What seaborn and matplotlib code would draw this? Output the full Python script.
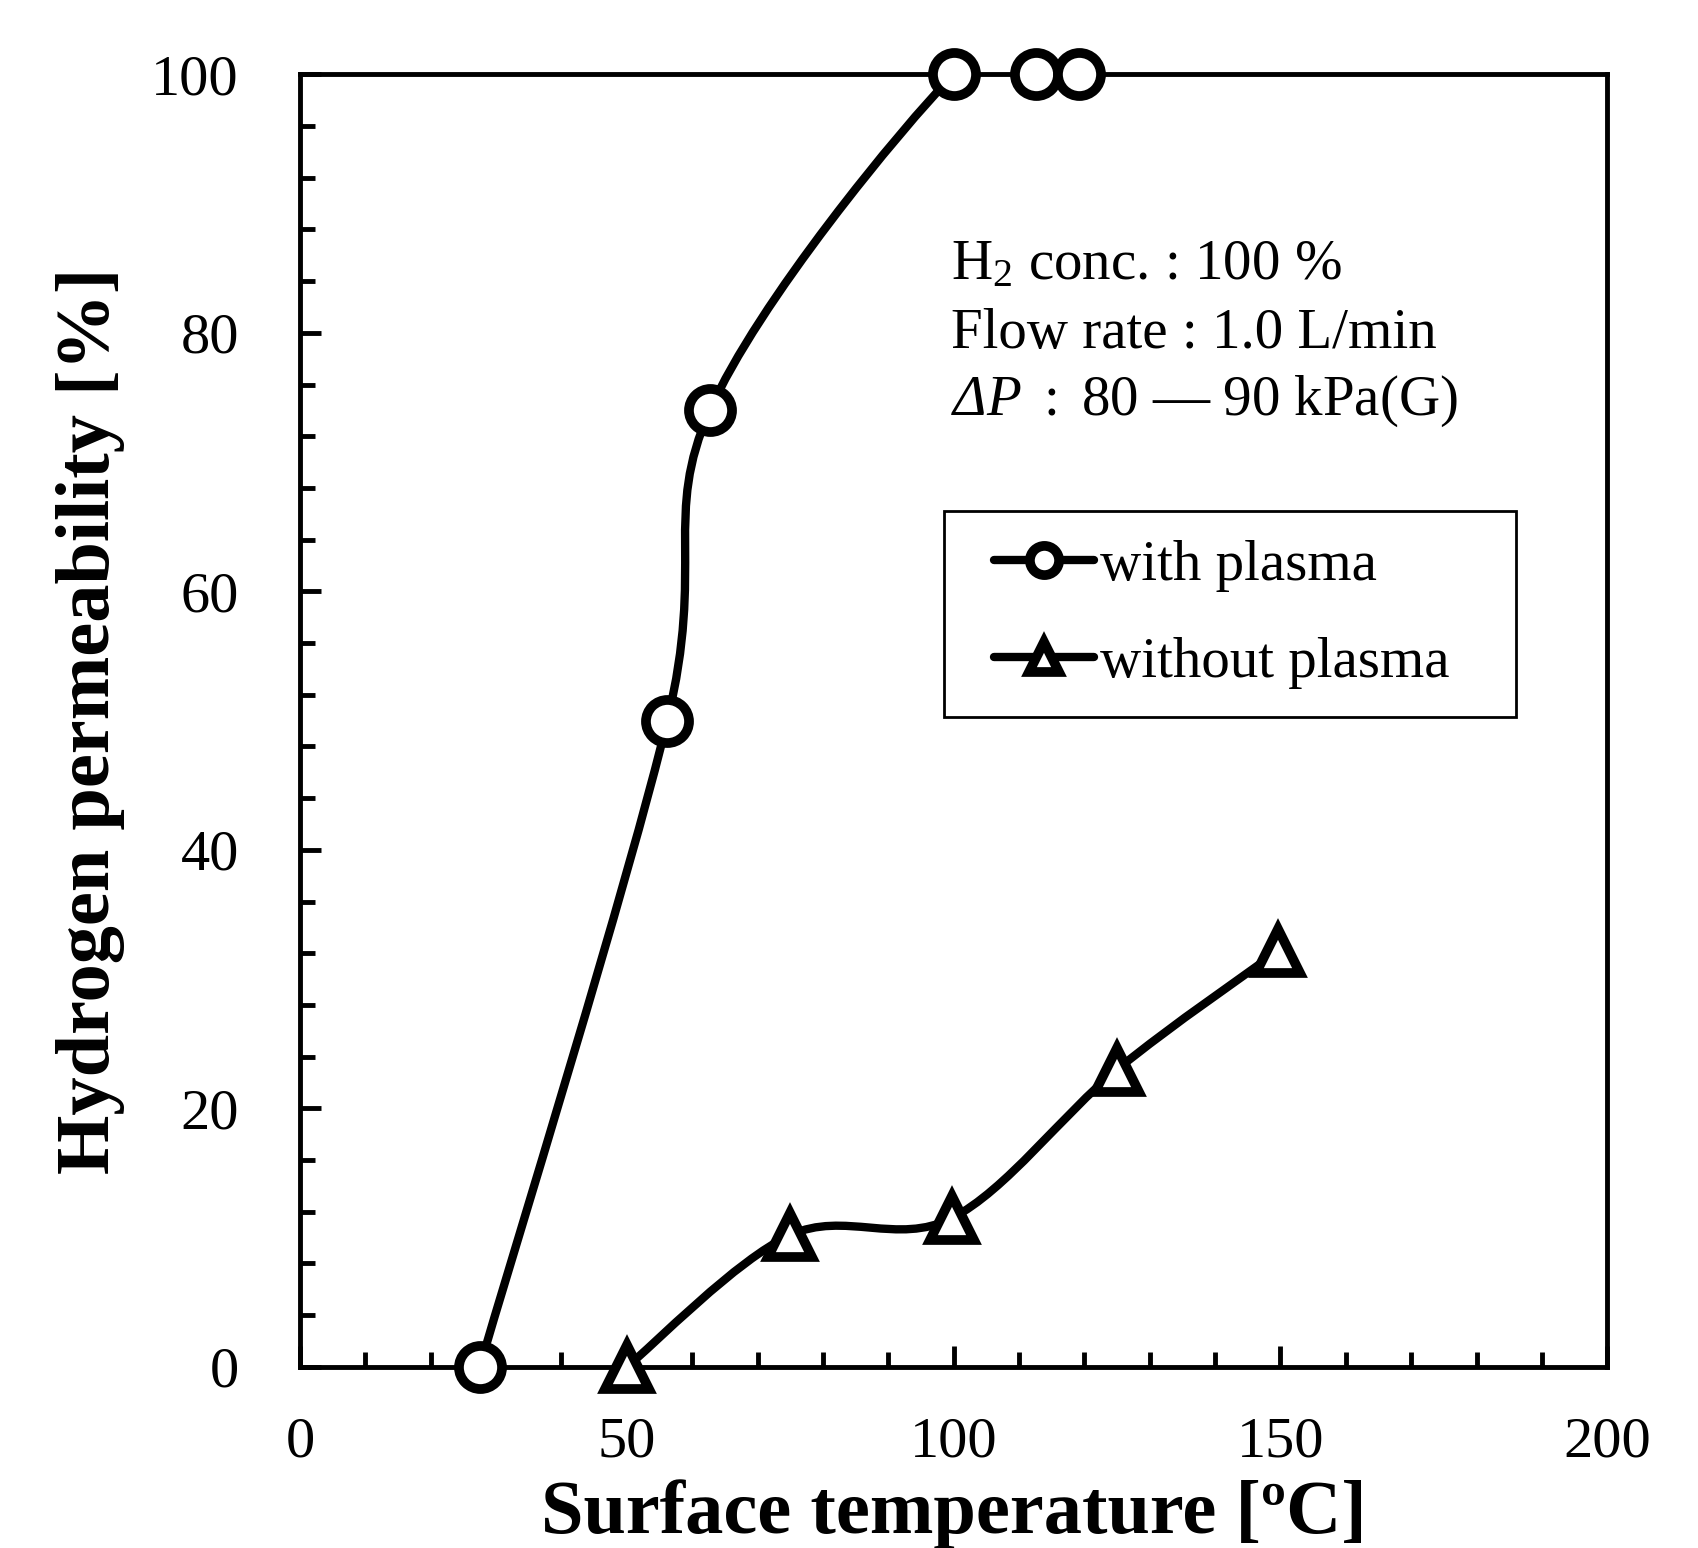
import numpy as np
import matplotlib
matplotlib.use("Agg")
import matplotlib.pyplot as plt
from matplotlib.path import Path
from matplotlib.patches import PathPatch, Rectangle
from matplotlib.lines import Line2D
from matplotlib.ticker import MultipleLocator
import seaborn as sns

# data
temp_with = [27.5, 56.2, 62.7, 100.0, 112.6, 119.2]
perm_with = [0.0, 50.0, 74.0, 100.0, 100.0, 100.0]
temp_without = [50.0, 75.0, 99.7, 125.0, 149.7]
perm_without = [0.0, 10.2, 11.5, 23.0, 32.2]
labels = ["with plasma", "without plasma"]
note_lines = [r"H$_2$ conc. : 100 %", "Flow rate : 1.0 L/min",
              r"ΔP $\mathrm{{:}\ 80\ —\ 90\ kPa(G)}$"]
note_styles = ["normal", "normal", "italic"]

sns.set_theme(style="ticks")
plt.rcParams["font.family"] = ["Liberation Serif", "DejaVu Serif"]
plt.rcParams["mathtext.fontset"] = "custom"
plt.rcParams["mathtext.rm"] = "Liberation Serif"
plt.rcParams["mathtext.it"] = "Liberation Serif:italic"
plt.rcParams["mathtext.bf"] = "Liberation Serif:bold"
for key in ["text.color", "axes.labelcolor", "xtick.color", "ytick.color", "axes.edgecolor"]:
    plt.rcParams[key] = "black"


def smooth_path(xs, ys):
    # Excel style smoothed line: cubic bezier through the points
    pts = np.column_stack([xs, ys])
    verts = [pts[0]]
    codes = [Path.MOVETO]
    n = len(pts)
    for i in range(n - 1):
        p0 = pts[i - 1] if i > 0 else pts[i]
        p1, p2 = pts[i], pts[i + 1]
        p3 = pts[i + 2] if i + 2 < n else pts[i + 1]
        c1 = p1 + (p2 - p0) / 6.0
        c2 = p2 - (p3 - p1) / 6.0
        verts += [c1, c2, p2]
        codes += [Path.CURVE4] * 3
    return Path(verts, codes)


fig = plt.figure(figsize=(16.99, 15.48), dpi=100)
ax = fig.add_axes([0.1766, 0.117, 0.7694, 0.835])

line_kw = dict(color="black", lw=6, fill=False, zorder=3, capstyle="round", joinstyle="round")
ax.add_patch(PathPatch(smooth_path(temp_with, perm_with), transform=ax.transData, **line_kw))
ax.add_patch(PathPatch(smooth_path(temp_without, perm_without), transform=ax.transData, **line_kw))

sns.lineplot(x=temp_with, y=perm_with, ax=ax, estimator=None, sort=False,
             linestyle="none", marker="o", markersize=31, markerfacecolor="white",
             markeredgecolor="black", markeredgewidth=7, color="black", zorder=5, clip_on=False)
sns.lineplot(x=temp_without, y=perm_without, ax=ax, estimator=None, sort=False,
             linestyle="none", marker="^", markersize=32, markerfacecolor="white",
             markeredgecolor="black", markeredgewidth=7, color="black", zorder=5, clip_on=False)

ax.set_xlim(0, 200)
ax.set_ylim(0, 100)
ax.xaxis.set_major_locator(MultipleLocator(50))
ax.xaxis.set_minor_locator(MultipleLocator(10))
ax.yaxis.set_major_locator(MultipleLocator(20))
ax.yaxis.set_minor_locator(MultipleLocator(4))
ax.tick_params(axis="both", which="major", direction="in", length=15, width=3.5,
               labelsize=42, color="black", labelcolor="black")
ax.tick_params(axis="both", which="minor", direction="in", length=11, width=3.5, color="black")
ax.tick_params(axis="y", which="major", pad=44)
ax.tick_params(axis="x", which="major", pad=36)
ax.tick_params(top=False, right=False, which="both")
for sp in ax.spines.values():
    sp.set_linewidth(3.5)
    sp.set_color("black")
    sp.set_visible(True)

ax.set_xlabel("Surface temperature [ºC]", fontsize=55, fontweight="bold", va="center")
ax.set_ylabel("Hydrogen permeability [%]", fontsize=55, fontweight="bold", va="center")
ax.xaxis.set_label_coords(0.5, -0.114)
ax.yaxis.set_label_coords(-0.160, 0.5)

for yy, txt, st in zip([0.852, 0.799, 0.747], note_lines, note_styles):
    ax.text(0.498, yy, txt, transform=ax.transAxes, fontsize=41, va="center", ha="left", style=st)

# legend frame drawn separately so the side padding can match the original box
ax.add_patch(Rectangle((0.493, 0.503), 0.437, 0.159, transform=ax.transAxes,
                       facecolor="white", edgecolor="black", lw=2, zorder=6))
handles = [
    Line2D([], [], color="black", lw=6, marker="o", markersize=21, markerfacecolor="white",
           markeredgecolor="black", markeredgewidth=7),
    Line2D([], [], color="black", lw=6, marker="^", markersize=22, markerfacecolor="white",
           markeredgecolor="black", markeredgewidth=7),
]
leg = ax.legend(handles, labels, loc="center left", bbox_to_anchor=(0.531, 0.582),
                fontsize=41, frameon=False, handlelength=1.75, handletextpad=0.1,
                labelspacing=0.8, borderpad=0, borderaxespad=0)
leg.set_zorder(7)

fig.savefig("out.png", dpi=100)
